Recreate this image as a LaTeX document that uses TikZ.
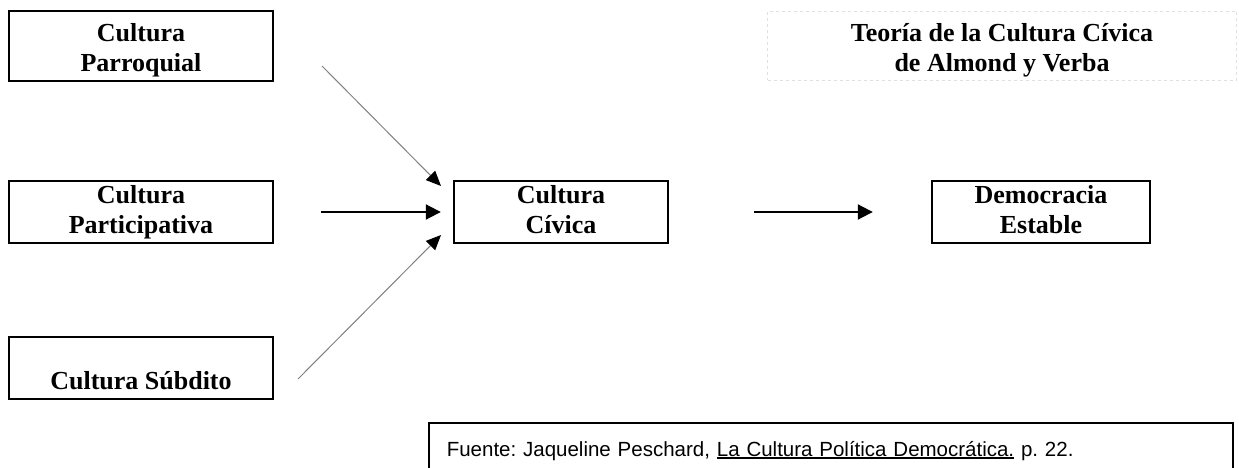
\documentclass[tikz,border=0pt]{standalone}
\usepackage{fontspec}
\setmainfont{Liberation Serif}
\newfontfamily\arialfont{Liberation Sans}
\usetikzlibrary{arrows.meta,positioning}
\frenchspacing
\newcommand{\srcul}[1]{\setbox0\hbox{#1}\rlap{\rule[-2.5pt]{\wd0}{1.6pt}}\box0}
\newcommand{\topgap}{\rule{0pt}{30pt}}

\begin{document}
\begin{tikzpicture}[x=1pt, y=-1pt,
    box/.style={rectangle, draw=black, line width=2.4pt, inner sep=0pt, align=center, font=\fontsize{26}{30}\selectfont\bfseries},
    titlebox/.style={rectangle, draw=black!12, dashed, line width=1pt, inner sep=0pt, align=center, font=\fontsize{26}{30}\selectfont\bfseries},
    srcbox/.style={rectangle, draw=black, line width=1.6pt, inner xsep=18pt, inner ysep=0pt, align=left, font=\arialfont\fontsize{20.5}{24}\selectfont},
    thinarrow/.style={draw=black!50, line width=1pt, -{Triangle[length=15pt, width=13pt, color=black]}},
    thickarrow/.style={draw=black, line width=2pt, -{Triangle[length=15pt, width=15pt]}}
]
\useasboundingbox (0,0) rectangle (1239,468);
\node[box, minimum width=264pt, minimum height=70pt] (parr) at (141,46) {\topgap Cultura\\Parroquial\strut};
\node[box, minimum width=264pt, minimum height=62pt] (part) at (141,212) {\strut Cultura\\Participativa\strut};
\node[box, minimum width=264pt, minimum height=62pt] (subd) at (141,368) {\strut\\Cultura Súbdito\strut};
\node[box, minimum width=214pt, minimum height=62pt] (civ) at (561,212) {\strut Cultura\\Cívica\strut};
\node[box, minimum width=218pt, minimum height=62pt] (demo) at (1041,212) {\strut Democracia\\Estable\strut};
\node[titlebox, minimum width=469pt, minimum height=68pt] (title) at (1002,46) {\topgap Teoría de la Cultura Cívica\\de Almond y Verba\strut};
\node[srcbox, anchor=north west, text width=768pt, minimum height=56pt] (src) at (428,422)
    {Fuente: Jaqueline Peschard, \srcul{La Cultura Política Democrática.}\ p. 22.};
% free ends of the slanted arrows
\coordinate (parrend) at (322,66);
\coordinate (civtop) at (441,186);
\coordinate (subdend) at (298,379);
\coordinate (civbot) at (441,235);
\draw[thinarrow] (parrend) -- (civtop);
\draw[thinarrow] (subdend) -- (civbot);
\draw[thickarrow, shorten <=47pt, shorten >=12pt] (part) -- (civ);
\draw[thickarrow, shorten <=85pt, shorten >=58pt] (civ) -- (demo);
\end{tikzpicture}
\end{document}
